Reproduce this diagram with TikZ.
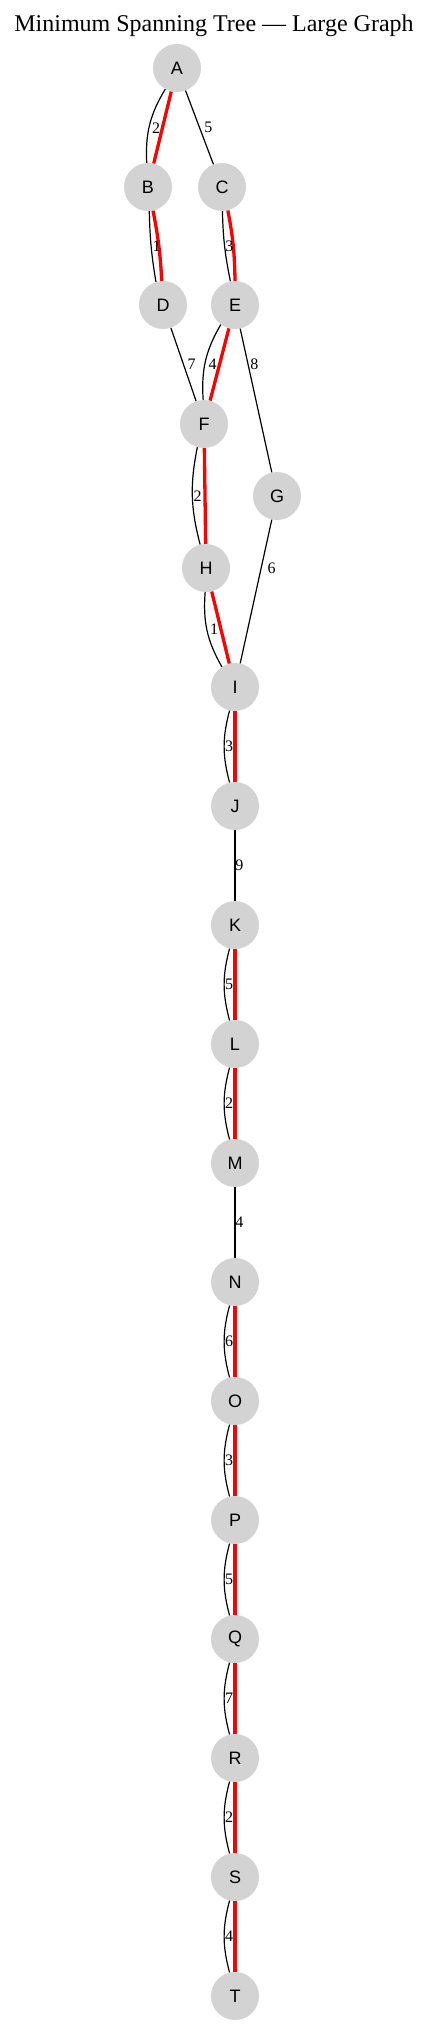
\documentclass[tikz,border=0pt]{standalone}
\usepackage{fontspec}
\setmainfont{Liberation Serif}
\newfontfamily\nodefont{Liberation Sans}
\definecolor{nodegray}{HTML}{D3D3D3}
\definecolor{mstred}{HTML}{FF0000}
\begin{document}
\begin{tikzpicture}[x=1pt,y=-1pt,
  vert/.style={circle,fill=nodegray,minimum size=48pt,inner sep=0pt,font=\nodefont\fontsize{18}{21}\selectfont},
  wedge/.style={draw=black,line width=1.2pt},
  mst/.style={draw=mstred,line width=3.3pt},
  wlabel/.style={font=\fontsize{16}{19}\selectfont,inner sep=0pt},
]
\useasboundingbox (0,0) rectangle (427,2025);
\node[anchor=base,font=\fontsize{24}{28}\selectfont,inner sep=0pt] (title) at (214,31.5) {Minimum Spanning Tree — Large Graph};

\node[vert] (A) at (177,68) {A};
\node[vert] (B) at (148,187) {B};
\node[vert] (C) at (222,187) {C};
\node[vert] (D) at (163,305) {D};
\node[vert] (E) at (235,305) {E};
\node[vert] (F) at (204,424) {F};
\node[vert] (G) at (277,496) {G};
\node[vert] (H) at (206,568) {H};
\node[vert] (I) at (235,687) {I};
\node[vert] (J) at (235,806) {J};
\node[vert] (K) at (235,925) {K};
\node[vert] (L) at (235,1044) {L};
\node[vert] (M) at (235,1163) {M};
\node[vert] (N) at (235,1282) {N};
\node[vert] (O) at (235,1401) {O};
\node[vert] (P) at (235,1520) {P};
\node[vert] (Q) at (235,1639) {Q};
\node[vert] (R) at (235,1758) {R};
\node[vert] (S) at (235,1877) {S};
\node[vert] (T) at (235,1996) {T};

% upper part
\draw[wedge] (A.241) to[bend right=17] (B.93);
\draw[mst] (A) -- (B);
\draw[wedge] (A) -- (C);
\draw[wedge] (B.273) to[bend right=4] (D.107);
\draw[mst] (B.282) to[bend left=4] (D.93);
\draw[wedge] (C.271) to[bend right=5] (E.101);
\draw[mst] (C.284) to[bend left=5] (E.90);
\draw[wedge] (D) -- (F);
\draw[wedge] (E.234) to[bend right=17] (F.92);
\draw[mst] (E) -- (F);
\draw[wedge] (E) -- (G);
\draw[wedge] (F.254) to[bend right=13] (H.104);
\draw[mst] (F) -- (H);
\draw[wedge] (H.268) to[bend right=17] (I.123);
\draw[mst] (H) -- (I);
\draw[wedge] (G) -- (I);
\draw[wedge] (J) -- (K);
\draw[wedge] (M) -- (N);

% vertical MST pairs
\foreach \u/\v in {I/J,K/L,L/M,N/O,O/P,P/Q,Q/R,R/S,S/T}{
  \draw[wedge] (\u.257) to[bend right=15] (\v.103);
  \draw[mst] (\u) -- (\v);
}

% labels
\node[wlabel] (lAB) at (156,128) {2};
\node[wlabel] (lAC) at (208.3,127.5) {5};
\node[wlabel] (lBD) at (156.7,246) {1};
\node[wlabel] (lCE) at (229.3,246) {3};
\node[wlabel] (lDF) at (191.7,364) {7};
\node[wlabel] (lEF) at (212.7,364) {4};
\node[wlabel] (lEG) at (254.3,364) {8};
\node[wlabel] (lFH) at (197.7,496) {2};
\node[wlabel] (lHI) at (214,629.5) {1};
\node[wlabel] (lGI) at (271.7,568) {6};
\node[wlabel] (lIJ) at (229,746.5) {3};
\node[wlabel] (lJK) at (239.3,865.5) {9};
\node[wlabel] (lKL) at (229,984.5) {5};
\node[wlabel] (lLM) at (229,1103.5) {2};
\node[wlabel] (lMN) at (239.3,1222.5) {4};
\node[wlabel] (lNO) at (229,1341.5) {6};
\node[wlabel] (lOP) at (229,1460.5) {3};
\node[wlabel] (lPQ) at (229,1579.5) {5};
\node[wlabel] (lQR) at (229,1698.5) {7};
\node[wlabel] (lRS) at (229,1817.5) {2};
\node[wlabel] (lST) at (229,1936.5) {4};
\end{tikzpicture}
\end{document}
